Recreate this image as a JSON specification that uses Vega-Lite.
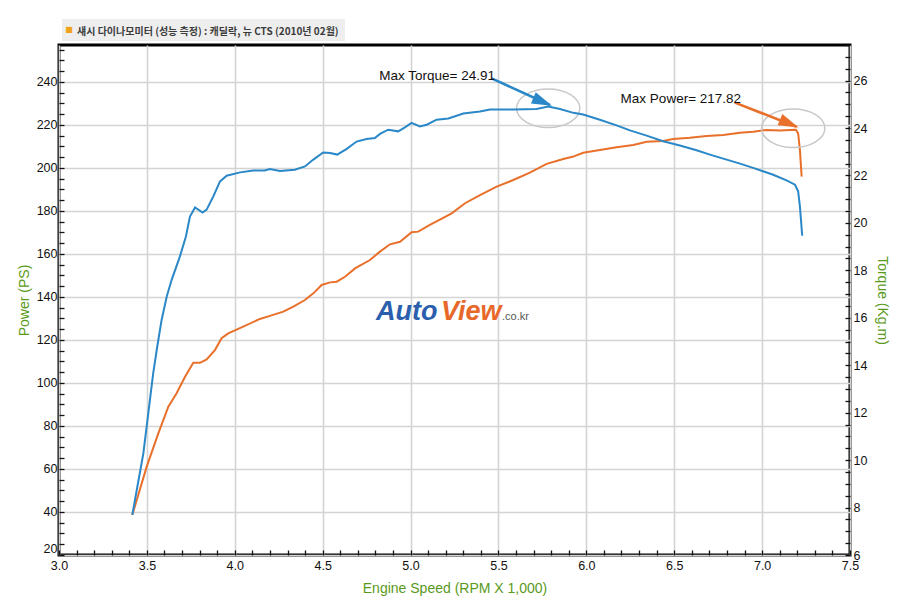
{
  "$schema": "https://vega.github.io/schema/vega-lite/v6.json",
  "width": 791,
  "height": 510,
  "autosize": {"type": "none"},
  "padding": {"left": 59, "top": 45, "right": 50, "bottom": 55},
  "background": "white",
  "title": {
    "text": "섀시 다이나모미터 (성능 측정) : 캐딜락, 뉴 CTS  (2010년 02월)",
    "anchor": "start",
    "frame": "group",
    "dx": 18,
    "dy": 27,
    "offset": 9,
    "font": "Noto Sans CJK KR",
    "fontSize": 10,
    "fontWeight": "bold",
    "color": "#3c3c3c"
  },
  "datasets": {
    "power": [
      {"rpm": 3.417, "ps": 38.6}, {"rpm": 3.499, "ps": 61.1}, {"rpm": 3.565, "ps": 76.6},
      {"rpm": 3.622, "ps": 89.0}, {"rpm": 3.669, "ps": 95.2}, {"rpm": 3.717, "ps": 102.9},
      {"rpm": 3.764, "ps": 109.4}, {"rpm": 3.802, "ps": 109.4}, {"rpm": 3.84, "ps": 111.0},
      {"rpm": 3.887, "ps": 115.3}, {"rpm": 3.925, "ps": 120.8}, {"rpm": 3.963, "ps": 123.1},
      {"rpm": 4.048, "ps": 126.2}, {"rpm": 4.143, "ps": 129.8}, {"rpm": 4.2, "ps": 131.2},
      {"rpm": 4.276, "ps": 133.2}, {"rpm": 4.333, "ps": 135.5}, {"rpm": 4.399, "ps": 138.6},
      {"rpm": 4.447, "ps": 141.7}, {"rpm": 4.494, "ps": 145.6}, {"rpm": 4.542, "ps": 146.8},
      {"rpm": 4.58, "ps": 147.1}, {"rpm": 4.627, "ps": 149.4}, {"rpm": 4.684, "ps": 153.3},
      {"rpm": 4.769, "ps": 157.2}, {"rpm": 4.826, "ps": 161.1}, {"rpm": 4.883, "ps": 164.5},
      {"rpm": 4.94, "ps": 165.7}, {"rpm": 5.006, "ps": 170.1}, {"rpm": 5.044, "ps": 170.4},
      {"rpm": 5.11, "ps": 173.5}, {"rpm": 5.234, "ps": 178.9}, {"rpm": 5.31, "ps": 183.6},
      {"rpm": 5.395, "ps": 187.4}, {"rpm": 5.49, "ps": 191.3}, {"rpm": 5.584, "ps": 194.4},
      {"rpm": 5.679, "ps": 197.8}, {"rpm": 5.774, "ps": 201.9}, {"rpm": 5.869, "ps": 204.2},
      {"rpm": 5.926, "ps": 205.3}, {"rpm": 5.982, "ps": 207.1}, {"rpm": 6.077, "ps": 208.4},
      {"rpm": 6.172, "ps": 209.6}, {"rpm": 6.267, "ps": 210.7}, {"rpm": 6.343, "ps": 212.2},
      {"rpm": 6.437, "ps": 212.6}, {"rpm": 6.494, "ps": 213.5}, {"rpm": 6.589, "ps": 214.1},
      {"rpm": 6.684, "ps": 214.9}, {"rpm": 6.779, "ps": 215.3}, {"rpm": 6.874, "ps": 216.4},
      {"rpm": 6.949, "ps": 216.9}, {"rpm": 7.025, "ps": 217.7}, {"rpm": 7.101, "ps": 217.4},
      {"rpm": 7.158, "ps": 217.7}, {"rpm": 7.192, "ps": 217.82}, {"rpm": 7.205, "ps": 216.1},
      {"rpm": 7.215, "ps": 208.4}, {"rpm": 7.225, "ps": 196.0}
    ],
    "torque": [
      {"rpm": 3.417, "kgm": 7.69}, {"rpm": 3.48, "kgm": 10.29}, {"rpm": 3.536, "kgm": 13.67},
      {"rpm": 3.559, "kgm": 14.79}, {"rpm": 3.584, "kgm": 15.92}, {"rpm": 3.613, "kgm": 16.9},
      {"rpm": 3.641, "kgm": 17.6}, {"rpm": 3.688, "kgm": 18.59}, {"rpm": 3.722, "kgm": 19.43},
      {"rpm": 3.745, "kgm": 20.27}, {"rpm": 3.774, "kgm": 20.65}, {"rpm": 3.817, "kgm": 20.44},
      {"rpm": 3.84, "kgm": 20.56}, {"rpm": 3.878, "kgm": 21.12}, {"rpm": 3.916, "kgm": 21.75},
      {"rpm": 3.954, "kgm": 21.99}, {"rpm": 4.03, "kgm": 22.13}, {"rpm": 4.105, "kgm": 22.21},
      {"rpm": 4.17, "kgm": 22.21}, {"rpm": 4.2, "kgm": 22.27}, {"rpm": 4.257, "kgm": 22.19},
      {"rpm": 4.342, "kgm": 22.24}, {"rpm": 4.399, "kgm": 22.38}, {"rpm": 4.447, "kgm": 22.67},
      {"rpm": 4.503, "kgm": 22.97}, {"rpm": 4.542, "kgm": 22.95}, {"rpm": 4.583, "kgm": 22.88},
      {"rpm": 4.637, "kgm": 23.12}, {"rpm": 4.693, "kgm": 23.43}, {"rpm": 4.75, "kgm": 23.54},
      {"rpm": 4.797, "kgm": 23.58}, {"rpm": 4.826, "kgm": 23.75}, {"rpm": 4.873, "kgm": 23.93},
      {"rpm": 4.93, "kgm": 23.86}, {"rpm": 4.968, "kgm": 24.03}, {"rpm": 5.006, "kgm": 24.22},
      {"rpm": 5.053, "kgm": 24.07}, {"rpm": 5.092, "kgm": 24.14}, {"rpm": 5.148, "kgm": 24.35},
      {"rpm": 5.215, "kgm": 24.4}, {"rpm": 5.3, "kgm": 24.61}, {"rpm": 5.395, "kgm": 24.7},
      {"rpm": 5.452, "kgm": 24.78}, {"rpm": 5.584, "kgm": 24.78}, {"rpm": 5.717, "kgm": 24.8},
      {"rpm": 5.783, "kgm": 24.91}, {"rpm": 5.85, "kgm": 24.8}, {"rpm": 5.926, "kgm": 24.64},
      {"rpm": 5.982, "kgm": 24.57}, {"rpm": 6.077, "kgm": 24.35}, {"rpm": 6.172, "kgm": 24.11},
      {"rpm": 6.248, "kgm": 23.9}, {"rpm": 6.343, "kgm": 23.68}, {"rpm": 6.437, "kgm": 23.44},
      {"rpm": 6.532, "kgm": 23.26}, {"rpm": 6.627, "kgm": 23.06}, {"rpm": 6.703, "kgm": 22.88},
      {"rpm": 6.779, "kgm": 22.71}, {"rpm": 6.874, "kgm": 22.5}, {"rpm": 6.949, "kgm": 22.32},
      {"rpm": 7.063, "kgm": 22.03}, {"rpm": 7.139, "kgm": 21.79}, {"rpm": 7.187, "kgm": 21.61},
      {"rpm": 7.205, "kgm": 21.33}, {"rpm": 7.215, "kgm": 20.7}, {"rpm": 7.221, "kgm": 20.14},
      {"rpm": 7.228, "kgm": 19.46}
    ],
    "notes": [
      {"x": 4.822, "y": 242.9, "label": "Max Torque= 24.91"},
      {"x": 6.195, "y": 232.0, "label": "Max Power= 217.82"}
    ],
    "arrows": [
      {"series": "Torque", "x": 5.461, "y": 241.7, "x2": 5.793, "y2": 229.3},
      {"series": "Power", "x": 6.845, "y": 230.4, "x2": 7.196, "y2": 219.2}
    ],
    "rings": [
      {"x": 5.783, "y": 227.8},
      {"x": 7.177, "y": 218.5}
    ],
    "logo": [
      {"word": "Auto", "x": 4.803, "y": 129.3},
      {"word": "View", "x": 5.173, "y": 129.3}
    ],
    "domain": [
      {"text": ".co.kr", "x": 5.52, "y": 129.3}
    ],
    "titlebox": [
      {"x": 3.017, "x2": 4.627, "y": 259.1, "y2": 269.3}
    ],
    "bullet": [
      {"text": "■", "x": 3.057, "y": 264.2}
    ]
  },
  "layer": [
    {
      "layer": [
        {
          "data": {"name": "power"},
          "mark": {"type": "line", "color": "#e8702a", "strokeWidth": 2},
          "encoding": {
            "x": {
              "field": "rpm",
              "type": "quantitative",
              "scale": {"domain": [3, 7.5], "nice": false, "zero": false},
              "axis": {
                "title": "Engine Speed (RPM X 1,000)",
                "values": [3, 3.1, 3.2, 3.3, 3.4, 3.5, 3.6, 3.7, 3.8, 3.9, 4, 4.1, 4.2, 4.3, 4.4, 4.5, 4.6, 4.7, 4.8, 4.9, 5, 5.1, 5.2, 5.3, 5.4, 5.5, 5.6, 5.7, 5.8, 5.9, 6, 6.1, 6.2, 6.3, 6.4, 6.5, 6.6, 6.7, 6.8, 6.9, 7, 7.1, 7.2, 7.3, 7.4, 7.5],
                "tickCount": 200,
                "labelOverlap": false,
                "labelExpr": "round(datum.value * 10) % 5 === 0 ? format(datum.value, '.1f') : ''",
                "gridOpacity": {"condition": {"test": "round(datum.value * 10) % 5 === 0", "value": 1}, "value": 0},
                "offset": -5,
                "labelPadding": 4,
                "titlePadding": 10
              }
            },
            "y": {
              "field": "ps",
              "type": "quantitative",
              "scale": {"domain": [20, 257.2], "nice": false, "zero": false},
              "axis": {
                "orient": "left",
                "title": "Power (PS)",
                "values": [20, 25, 30, 35, 40, 45, 50, 55, 60, 65, 70, 75, 80, 85, 90, 95, 100, 105, 110, 115, 120, 125, 130, 135, 140, 145, 150, 155, 160, 165, 170, 175, 180, 185, 190, 195, 200, 205, 210, 215, 220, 225, 230, 235, 240, 245, 250, 255],
                "tickCount": 200,
                "labelOverlap": false,
                "labelFlush": true,
                "labelExpr": "datum.value % 20 === 0 ? format(datum.value, 'd') : ''",
                "gridOpacity": {"condition": {"test": "datum.value % 20 === 0", "value": 1}, "value": 0},
                "offset": -5,
                "labelPadding": 2,
                "titlePadding": 5
              }
            }
          }
        },
        {
          "data": {"name": "titlebox"},
          "mark": {"type": "rect", "fill": "#eeeeee"},
          "encoding": {
            "x": {"field": "x", "type": "quantitative"},
            "x2": {"field": "x2"},
            "y": {"field": "y", "type": "quantitative"},
            "y2": {"field": "y2"}
          }
        },
        {
          "data": {"name": "bullet"},
          "mark": {"type": "text", "color": "#f0a21a", "fontSize": 8, "font": "DejaVu Sans"},
          "encoding": {
            "x": {"field": "x", "type": "quantitative"},
            "y": {"field": "y", "type": "quantitative"},
            "text": {"field": "text"}
          }
        },
        {
          "data": {"name": "rings"},
          "mark": {
            "type": "point",
            "shape": "M1,0 C1,0.3364 0.5523,0.609 0,0.609 C-0.5523,0.609 -1,0.3364 -1,0 C-1,-0.3364 -0.5523,-0.609 0,-0.609 C0.5523,-0.609 1,-0.3364 1,0 Z",
            "size": 4000,
            "filled": false,
            "stroke": "#c8c8c8",
            "strokeWidth": 1.5,
            "opacity": 1
          },
          "encoding": {
            "x": {"field": "x", "type": "quantitative"},
            "y": {"field": "y", "type": "quantitative"}
          }
        },
        {
          "data": {"name": "arrows"},
          "mark": {"type": "rule", "strokeWidth": 2.6},
          "encoding": {
            "x": {"field": "x", "type": "quantitative"},
            "y": {"field": "y", "type": "quantitative"},
            "x2": {"field": "x2"},
            "y2": {"field": "y2"},
            "color": {
              "field": "series",
              "type": "nominal",
              "legend": null,
              "scale": {"domain": ["Power", "Torque", "Auto", "View"], "range": ["#e8702a", "#2a88c8", "#2b5fae", "#e8682a"]}
            }
          }
        },
        {
          "data": {"name": "arrows"},
          "mark": {
            "type": "point",
            "shape": "M0.12,0 L-1,-0.34 L-1,0.34 Z",
            "size": 1300,
            "angle": 23,
            "filled": true,
            "opacity": 1
          },
          "encoding": {
            "x": {"field": "x2", "type": "quantitative"},
            "y": {"field": "y2", "type": "quantitative"},
            "color": {
              "field": "series",
              "type": "nominal",
              "legend": null,
              "scale": {"domain": ["Power", "Torque", "Auto", "View"], "range": ["#e8702a", "#2a88c8", "#2b5fae", "#e8682a"]}
            }
          }
        },
        {
          "data": {"name": "notes"},
          "mark": {"type": "text", "align": "left", "baseline": "middle", "fontSize": 13.5, "color": "#111111"},
          "encoding": {
            "x": {"field": "x", "type": "quantitative"},
            "y": {"field": "y", "type": "quantitative"},
            "text": {"field": "label"}
          }
        },
        {
          "data": {"name": "logo"},
          "mark": {"type": "text", "align": "left", "baseline": "alphabetic", "fontSize": 27, "fontWeight": "bold", "fontStyle": "italic", "font": "Liberation Sans"},
          "encoding": {
            "x": {"field": "x", "type": "quantitative"},
            "y": {"field": "y", "type": "quantitative"},
            "text": {"field": "word"},
            "color": {
              "field": "word",
              "type": "nominal",
              "legend": null,
              "scale": {"domain": ["Power", "Torque", "Auto", "View"], "range": ["#e8702a", "#2a88c8", "#2b5fae", "#e8682a"]}
            }
          }
        },
        {
          "data": {"name": "domain"},
          "mark": {"type": "text", "align": "left", "baseline": "alphabetic", "fontSize": 11, "color": "#555555", "font": "Liberation Sans"},
          "encoding": {
            "x": {"field": "x", "type": "quantitative"},
            "y": {"field": "y", "type": "quantitative"},
            "text": {"field": "text"}
          }
        }
      ]
    },
    {
      "data": {"name": "torque"},
      "mark": {"type": "line", "color": "#2a88c8", "strokeWidth": 2},
      "encoding": {
        "x": {"field": "rpm", "type": "quantitative"},
        "y": {
          "field": "kgm",
          "type": "quantitative",
          "scale": {"domain": [6, 27.5], "nice": false, "zero": false},
          "axis": {
            "orient": "right",
            "title": "Torque (Kg.m)",
            "grid": false,
            "values": [6, 6.5, 7, 7.5, 8, 8.5, 9, 9.5, 10, 10.5, 11, 11.5, 12, 12.5, 13, 13.5, 14, 14.5, 15, 15.5, 16, 16.5, 17, 17.5, 18, 18.5, 19, 19.5, 20, 20.5, 21, 21.5, 22, 22.5, 23, 23.5, 24, 24.5, 25, 25.5, 26, 26.5, 27, 27.5],
            "tickCount": 200,
            "labelOverlap": false,
            "labelExpr": "datum.value % 2 === 0 ? format(datum.value, 'd') : ''",
            "offset": -5,
            "labelPadding": 3,
            "titlePadding": 8
          }
        }
      }
    }
  ],
  "resolve": {"scale": {"y": "independent"}},
  "config": {
    "font": "Liberation Sans, sans-serif",
    "view": {"stroke": "#000000", "strokeWidth": 3},
    "text": {"font": "Liberation Sans, sans-serif"},
    "axis": {
      "domain": false,
      "labelFont": "Liberation Sans, sans-serif",
      "labelFontSize": 12.5,
      "labelColor": "#111111",
      "labelOverlap": false,
      "labelFlush": false,
      "labelBound": false,
      "tickColor": "#111111",
      "tickWidth": 1.3,
      "tickSize": 5,
      "gridColor": "#d4d4d4",
      "gridWidth": 1.6,
      "titleFont": "Liberation Sans, sans-serif",
      "titleColor": "#5a9a1c",
      "titleFontSize": 14,
      "titleFontWeight": "normal"
    }
  }
}
